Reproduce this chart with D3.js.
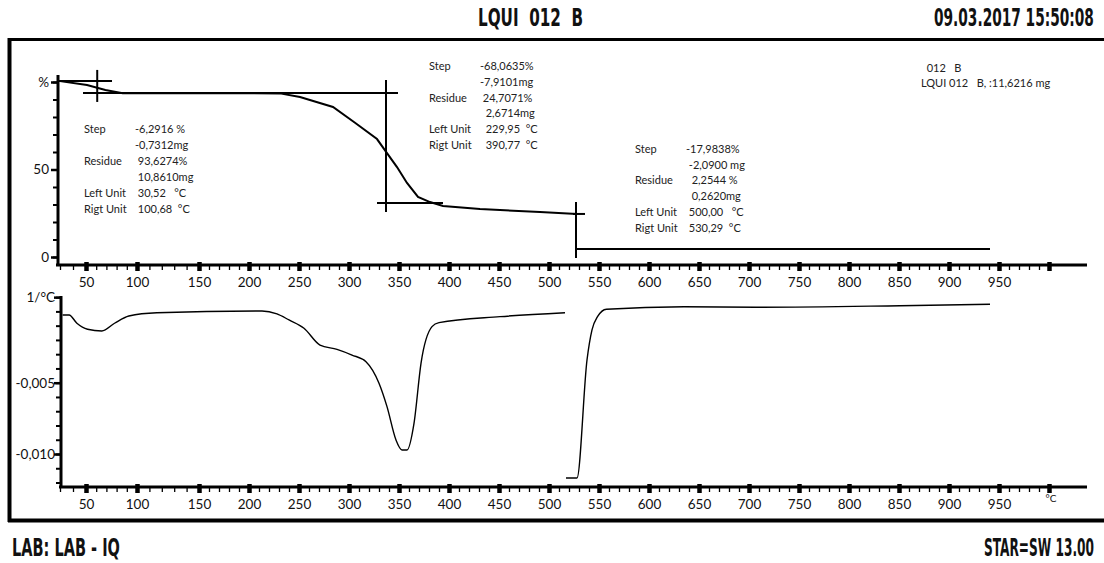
<!DOCTYPE html>
<html>
<head>
<meta charset="utf-8">
<script src="https://cdn.jsdelivr.net/npm/d3@7"></script>
<style>
  body { margin: 0; background: #fff; }
  svg { display: block; }
  .ann text { white-space: pre; font-family: Lato, "Open Sans", sans-serif; font-size: 11px; fill: #222; }
  .axis text { font-family: Lato, "Open Sans", sans-serif; font-size: 13.5px; fill: #111; }
  .big { white-space: pre; font-family: "Liberation Sans Narrow", "DejaVu Sans Condensed", sans-serif; font-weight: bold; font-size: 25px; fill: #111; }
</style>
</head>
<body>
<div id="chart"></div>
<script>
// x tick labels (degC)
const xLabels = [50, 100, 150, 200, 250, 300, 350, 400, 450, 500, 550, 600, 650, 700, 750, 800, 850, 900, 950];
const xMajor = xLabels.concat([1000]);

// TGA curve, temperature (degC) and mass (%)
const tgaT = [30, 51, 69, 86, 150, 231, 251, 284, 306, 328, 338, 348, 358, 369, 381, 394, 431, 491, 528];
const tgaPct = [100.5, 98.3, 95.4, 93.6, 93.6, 93.5, 91.4, 85.7, 76.7, 67.4, 59.4, 51.4, 42.3, 34.3, 31.4, 29.1, 27.4, 25.7, 24.6];
// mass level after the last step
const tgaTailT = [527, 941];
const tgaTailPct = [4.6, 4.6];

// DTG curve, first part (1/degC)
const dtgT = [32, 37, 43, 51.5, 65.5, 78, 92, 116, 213, 228, 240, 255, 271, 288, 303, 317, 330, 338, 347, 353, 358, 365, 372, 383, 390, 451, 516];
const dtgVal = [-0.00025, -0.00025, -0.00083, -0.00125, -0.00137, -0.00083, -0.00032, -0.00009, 0.00003, -0.00018, -0.0006, -0.00118, -0.00236, -0.00266, -0.00306, -0.00353, -0.00504, -0.00668, -0.00902, -0.00972, -0.00972, -0.00785, -0.00364, -0.00107, -0.00079, -0.00037, -0.00009];
// DTG curve, second part
const dtg2T = [517, 528, 538, 543, 548.5, 557.5, 635, 707, 851, 941];
const dtg2Val = [-0.01168, -0.01168, -0.00341, -0.0013, -0.00037, 0.00015, 0.00033, 0.00029, 0.0004, 0.0005];

// step evaluation marks [T0, %0, T1, %1]
const stepMarks = [
  [28.5, 100.6, 75.5, 100.6],
  [61, 106.9, 61, 88.6],
  [47.7, 93.7, 349, 93.7],
  [337, 101.1, 337, 25.7],
  [328, 30.9, 394, 30.9],
  [527, 31.4, 527, -0.6],
  [524, 24.6, 536, 24.6]
];

// step result texts
const rowNames = ["Step", "", "Residue", "", "Left Unit", "Rigt Unit"];
const step1Values = ["-6,2916 %", "-0,7312mg", " 93,6274%", " 10,8610mg", " 30,52   °C", " 100,68  °C"];
const step2Values = ["-68,0635%", "-7,9101mg", " 24,7071%", "  2,6714mg", "  229,95  °C", "  390,77  °C"];
const step3Values = ["-17,9838%", " -2,0900 mg", "  2,2544 %", "  0,2620mg", " 500,00   °C", " 530,29  °C"];
const sampleInfo = ["  012   B", "LQUI 012   B, :11,6216 mg"];

const width = 1104, height = 563;
const svg = d3.select("#chart").append("svg")
  .attr("width", width)
  .attr("height", height);

// SCALES (the temperature axis of the print is not quite linear at its left end)
const x = d3.scaleLinear()
  .domain([30, 50, 100, 150, 1000])
  .range([60, 86, 137, 199, 1049]);
const yTop = d3.scaleLinear().domain([0, 100]).range([257, 82]);
const yBot = d3.scaleLinear().domain([-0.01, 0]).range([454, 311.4]);

const fmtLocale = d3.formatLocale({ decimal: ",", thousands: ".", grouping: [3], currency: ["", ""], minus: "-" });
const fmt3 = fmtLocale.format(".3f");

//FRAME
svg.append("line").attr("x1", 9).attr("x2", width).attr("y1", 39.5).attr("y2", 39.5)
  .attr("stroke", "#000").attr("stroke-width", 3);
svg.append("line").attr("x1", 9.5).attr("x2", 9.5).attr("y1", 38).attr("y2", 522)
  .attr("stroke", "#000").attr("stroke-width", 4);
svg.append("line").attr("x1", 8).attr("x2", width).attr("y1", 520.5).attr("y2", 520.5)
  .attr("stroke", "#000").attr("stroke-width", 4);

//HEADER / FOOTER (squeezed to the width of the condensed print font)
function fitText(str, x0, y0, w) {
  const t = svg.append("text").attr("class", "big").text(str);
  const natural = t.node().getComputedTextLength();
  t.attr("transform", `translate(${x0},${y0}) scale(${w / natural},1)`);
}
fitText("LQUI  012  B", 478, 26, 105);
fitText("09.03.2017 15:50:08", 934, 26, 160);
fitText("LAB: LAB - IQ", 12, 556, 108);
fitText("STAR=SW 13.00", 984, 556, 110);

// x axis (ticks + labels) helper
function drawXAxis(yPos, x0) {
  const g = svg.append("g").attr("class", "axis").attr("transform", `translate(0,${yPos})`);
  const minor = g.append("g").call(d3.axisBottom(x).tickValues(d3.range(30, 1001, 10)).tickSize(5).tickFormat(""));
  minor.select(".domain").remove();
  minor.selectAll(".tick line").attr("stroke", "#000").attr("stroke-width", 1.3);
  const major = g.append("g").call(d3.axisBottom(x).tickValues(xMajor).tickSize(6)
    .tickFormat(d => d === 1000 ? "" : d));
  major.select(".domain").remove();
  major.selectAll(".tick line").attr("y1", -3).attr("stroke", "#000").attr("stroke-width", 4.5);
  major.selectAll(".tick text").attr("y", 12);
  g.append("line").attr("x1", x0).attr("x2", 1087).attr("y1", 0).attr("y2", 0)
    .attr("stroke", "#000").attr("stroke-width", 3);
  return g;
}

//TOP PANEL
drawXAxis(265, 56);
const gyTop = svg.append("g").attr("class", "axis").attr("transform", "translate(58,0)");
const yTopMinor = gyTop.append("g").call(d3.axisLeft(yTop).tickValues(d3.range(0, 101, 10)).tickSize(5).tickFormat(""));
yTopMinor.select(".domain").remove();
yTopMinor.selectAll(".tick line").attr("stroke", "#000").attr("stroke-width", 2);
const yTopMajor = gyTop.append("g").call(d3.axisLeft(yTop).tickValues([0, 50, 100]).tickSize(7)
  .tickFormat(d => d === 100 ? "%" : d));
yTopMajor.select(".domain").remove();
yTopMajor.selectAll(".tick line").attr("stroke", "#000").attr("stroke-width", 2.5);
yTopMajor.selectAll(".tick text").attr("x", -9);
gyTop.append("line").attr("x1", 0).attr("x2", 0).attr("y1", 75).attr("y2", 266)
  .attr("stroke", "#000").attr("stroke-width", 3);

const tgaLine = d3.line().x(d => x(d[0])).y(d => yTop(d[1]));
svg.append("path").datum(d3.zip(tgaT, tgaPct)).attr("d", tgaLine)
  .attr("fill", "none").attr("stroke", "#000").attr("stroke-width", 2);
svg.append("path").datum(d3.zip(tgaTailT, tgaTailPct)).attr("d", tgaLine)
  .attr("fill", "none").attr("stroke", "#000").attr("stroke-width", 2);

svg.selectAll(".mark").data(stepMarks).enter().append("line")
  .attr("class", "mark")
  .attr("x1", d => x(d[0])).attr("y1", d => yTop(d[1]))
  .attr("x2", d => x(d[2])).attr("y2", d => yTop(d[3]))
  .attr("stroke", "#000").attr("stroke-width", 2);

// step tables
function drawTable(values, lx, vx, y0, step) {
  const g = svg.append("g").attr("class", "ann");
  rowNames.forEach((name, i) => {
    g.append("text").attr("x", lx).attr("y", y0 + i * step + 4).text(name);
    g.append("text").attr("x", vx).attr("y", y0 + i * step + 4).text(values[i]);
  });
}
drawTable(step1Values, 84, 135, 129, 16);
drawTable(step2Values, 429, 480, 66, 15.8);
drawTable(step3Values, 635, 686, 149, 15.7);

const info = svg.append("g").attr("class", "ann");
sampleInfo.forEach((s, i) => {
  info.append("text").attr("x", 921).attr("y", 72 + i * 15).text(s);
});

//BOTTOM PANEL
const gxBot = drawXAxis(487, 59);
gxBot.append("text").attr("x", 1051).attr("y", 15).attr("text-anchor", "middle")
  .style("font-size", "10px").text("°C");

const gyBot = svg.append("g").attr("class", "axis").attr("transform", "translate(61,0)");
const yBotMinor = gyBot.append("g").call(d3.axisLeft(yBot)
  .tickValues(d3.range(-12, 2).map(d => d / 1000)).tickSize(5).tickFormat(""));
yBotMinor.select(".domain").remove();
yBotMinor.selectAll(".tick line").attr("stroke", "#000").attr("stroke-width", 2);
const yBotMajor = gyBot.append("g").call(d3.axisLeft(yBot).tickValues([-0.01, -0.005, 0.001]).tickSize(7)
  .tickFormat(d => d > 0 ? "1/°C" : fmt3(d)));
yBotMajor.select(".domain").remove();
yBotMajor.selectAll(".tick line").attr("stroke", "#000").attr("stroke-width", 2.5);
yBotMajor.selectAll(".tick text").attr("x", -6);
gyBot.append("line").attr("x1", 0).attr("x2", 0).attr("y1", 296).attr("y2", 488)
  .attr("stroke", "#000").attr("stroke-width", 3);

const dtgLine = d3.line().curve(d3.curveMonotoneX).x(d => x(d[0])).y(d => yBot(d[1]));
svg.append("path").datum(d3.zip(dtgT, dtgVal)).attr("d", dtgLine)
  .attr("fill", "none").attr("stroke", "#000").attr("stroke-width", 1.4);
svg.append("path").datum(d3.zip(dtg2T, dtg2Val)).attr("d", dtgLine)
  .attr("fill", "none").attr("stroke", "#000").attr("stroke-width", 1.4);
</script>
</body>
</html>
